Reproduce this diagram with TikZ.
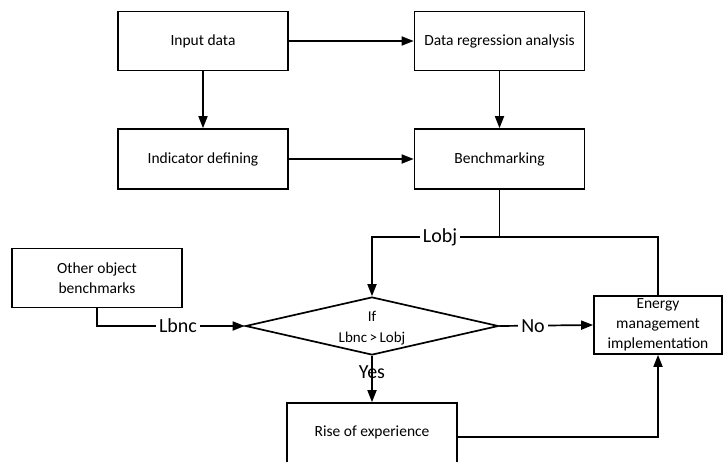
\documentclass[tikz,border=0pt]{standalone}
\usepackage{fontspec}
\setmainfont{Carlito}
\usetikzlibrary{shapes.geometric,arrows.meta}
\begin{document}
\begin{tikzpicture}[x=1pt,y=-1pt,
  box/.style={draw,line width=1.7pt,minimum width=170pt,minimum height=59pt,inner sep=0pt,align=center,font=\fontsize{15.5}{20}\selectfont},
  conn/.style={line width=1.7pt},
  arr/.style={conn,-{Triangle[length=12pt,width=9pt]}},
  lbl/.style={fill=white,inner sep=3pt,font=\fontsize{20}{24}\selectfont}]
\useasboundingbox (0,0) rectangle (723,461);
\clip (0,0) rectangle (723,461);
\fill[white] (0,0) rectangle (723,461);
\node[box] (input) at (203,41) {Input data};
\node[box] (reg) at (499.5,41) {Data regression analysis};
\node[box,minimum height=60pt] (ind) at (203,159) {Indicator defining};
\node[box,minimum height=60pt] (bench) at (499.5,159) {Benchmarking};
\node[box] (other) at (97,278) {Other object\\benchmarks};
\node[box,minimum width=128pt,minimum height=58pt] (energy) at (658,325) {Energy\\management\\implementation};
\node[box,minimum width=170pt,minimum height=70pt] (rise) at (372,438) {};
\node[font=\fontsize{15.5}{20}\selectfont] (risetxt) at (372,432) {Rise of experience};
\node[draw,diamond,line width=1.7pt,minimum width=253pt,minimum height=58pt,inner sep=0pt] (dia) at (372,326) {};
\node[align=center,font=\fontsize{15}{21}\selectfont] (diatxt) at (372,328) {If\\Lbnc\,>\,Lobj};
\coordinate (j) at (499.5,237);
\coordinate (jl) at (372,237);
\draw[arr] (input) -- (reg);
\draw[arr] (input) -- (ind);
\draw[arr] (ind) -- (bench);
\draw[arr] (reg) -- (bench);
\draw[conn] (bench) -- (j);
\draw[arr] (j) -- (jl) -- (dia.north);
\draw[conn] (energy.north) |- (j);
\node[lbl] (lobj) at (440,237) {Lobj};
\draw[arr] (other.south) |- (dia.west);
\node[lbl] (lbnc) at (178,326) {Lbnc};
\draw[arr] (dia.east) -- (energy.west);
\node[lbl] (no) at (533,326) {No};
\draw[arr] (dia.south) -- (rise.north);
\node[font=\fontsize{20}{24}\selectfont,inner sep=0pt] (yes) at (372,372) {Yes};
\draw[arr] (rise.east |- 0,437) coordinate (re) -| (energy.south);
\end{tikzpicture}
\end{document}
